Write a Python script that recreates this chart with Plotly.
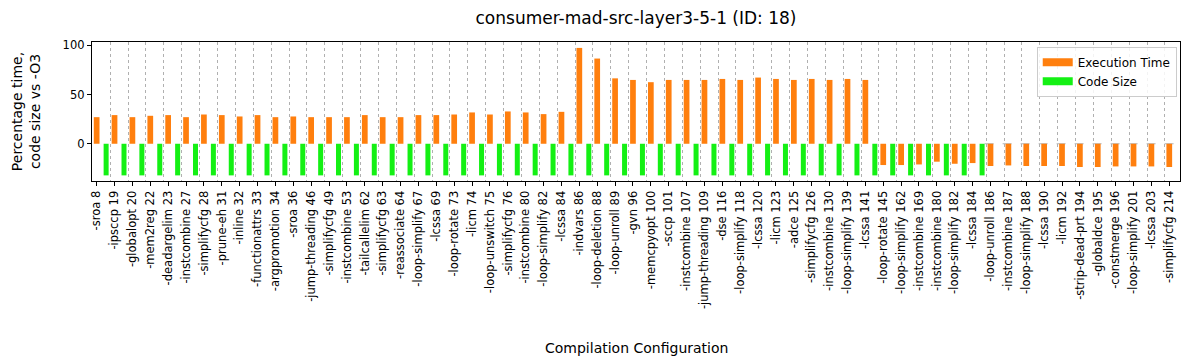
import plotly.graph_objects as go

# ── DATA ─────────────────────────────────────────────────────────────────
TITLE = 'consumer-mad-src-layer3-5-1 (ID: 18)'

labels = [
    '-sroa 8', '-ipsccp 19', '-globalopt 20', '-mem2reg 22', '-deadargelim 23',
    '-instcombine 27', '-simplifycfg 28', '-prune-eh 31', '-inline 32',
    '-functionattrs 33', '-argpromotion 34', '-sroa 36', '-jump-threading 46',
    '-simplifycfg 49', '-instcombine 53', '-tailcallelim 62', '-simplifycfg 63',
    '-reassociate 64', '-loop-simplify 67', '-lcssa 69', '-loop-rotate 73',
    '-licm 74', '-loop-unswitch 75', '-simplifycfg 76', '-instcombine 80',
    '-loop-simplify 82', '-lcssa 84', '-indvars 86', '-loop-deletion 88',
    '-loop-unroll 89', '-gvn 96', '-memcpyopt 100', '-sccp 101',
    '-instcombine 107', '-jump-threading 109', '-dse 116', '-loop-simplify 118',
    '-lcssa 120', '-licm 123', '-adce 125', '-simplifycfg 126',
    '-instcombine 130', '-loop-simplify 139', '-lcssa 141', '-loop-rotate 145',
    '-loop-simplify 162', '-instcombine 169', '-instcombine 180',
    '-loop-simplify 182', '-lcssa 184', '-loop-unroll 186', '-instcombine 187',
    '-loop-simplify 188', '-lcssa 190', '-licm 192', '-strip-dead-prt 194',
    '-globaldce 195', '-constmerge 196', '-loop-simplify 201', '-lcssa 203',
    '-simplifycfg 214',
]

exec_time = [
    27.0, 29.1, 27.0, 28.4, 29.1, 27.0, 29.7, 29.1, 27.7, 29.1,
    27.0, 27.7, 27.0, 27.0, 27.0, 29.1, 27.0, 27.0, 29.1, 29.1,
    29.7, 31.8, 29.7, 32.8, 31.8, 30.1, 32.4, 97.3, 86.5, 66.4,
    64.8, 62.5, 64.8, 64.8, 64.8, 65.8, 64.8, 67.2, 65.8, 64.8,
    65.8, 64.8, 65.8, 64.8, -21.6, -21.6, -21.0, -18.2, -20.3, -19.6,
    -22.6, -22.0, -22.6, -22.6, -22.6, -23.6, -23.6, -23.0, -23.0, -23.0,
    -23.6,
]

code_size = [-32.1] * 50 + [0.0] * 11

# ── STYLE ────────────────────────────────────────────────────────────────
ORANGE = '#ff7f0e'
GREEN = '#14f014'
FONT = 'DejaVu Sans'
X_RANGE = [-0.26, 60.6]
Y_RANGE = [-37.8, 103.3]
# the page body has an 8px margin, so the figure is drawn 8px smaller
W, H = 1188, 354

x = list(range(len(labels)))

fig = go.Figure()
fig.add_trace(go.Bar(x=x, y=exec_time, width=0.32, offset=-0.16,
                     marker=dict(color=ORANGE, line=dict(width=0)),
                     showlegend=False))
fig.add_trace(go.Bar(x=x, y=code_size, width=0.28, offset=0.39,
                     marker=dict(color=GREEN, line=dict(width=0)),
                     showlegend=False))

# legend patches
fig.add_trace(go.Scatter(x=[None], y=[None], mode='lines', name='Execution Time',
                         line=dict(color=ORANGE, width=8)))
fig.add_trace(go.Scatter(x=[None], y=[None], mode='lines', name='Code Size',
                         line=dict(color=GREEN, width=8)))

# dashed zero line where there are no code size bars
last_green = max(i for i, v in enumerate(code_size) if v != 0)
fig.add_shape(type='line', layer='below', xref='x', yref='y',
              x0=last_green + 0.67, x1=X_RANGE[1], y0=0, y1=0,
              line=dict(color='#b5b5b5', width=1, dash='dash'))

fig.update_xaxes(
    range=X_RANGE, tickmode='array', tickvals=x, ticktext=labels,
    tickangle=-90, tickfont=dict(family=FONT, size=11.5, color='black'),
    ticks='outside', ticklen=4, tickcolor='black',
    showgrid=False, zeroline=False, automargin=False,
    showline=True, mirror=True, linecolor='black', linewidth=1.3,
    minor=dict(tick0=-0.24, dtick=1, showgrid=True, griddash='dot',
               gridcolor='#b0b0b0', gridwidth=1, ticks=''),
)
fig.update_yaxes(
    range=Y_RANGE, tickvals=[0, 50, 100],
    tickfont=dict(family=FONT, size=11.5, color='black'),
    ticks='outside', ticklen=4, tickcolor='black',
    showgrid=False, zeroline=False, automargin=False,
    showline=True, mirror=True, linecolor='black', linewidth=1.3,
)

fig.add_annotation(text='Compilation Configuration', xref='paper', yref='paper',
                   x=0.5, y=-1.204, showarrow=False, yanchor='middle',
                   font=dict(family=FONT, size=14, color='black'))
fig.add_annotation(text='Percentage time,<br>code size vs -O3', xref='paper',
                   yref='paper', x=-0.061, y=0.5, textangle=-90, showarrow=False,
                   xanchor='center', yanchor='middle',
                   font=dict(family=FONT, size=14, color='black'))

fig.update_layout(
    width=W, height=H,
    margin=dict(l=84, r=16, t=34, b=181),
    paper_bgcolor='white', plot_bgcolor='white',
    barmode='overlay',
    title=dict(text=TITLE, x=0.5, xref='paper', y=1 - 10 / H,
               yanchor='middle', font=dict(family=FONT, size=17, color='black')),
    legend=dict(x=0.997, xanchor='right', y=0.965, yanchor='top',
                bgcolor='rgba(255,255,255,0.85)', bordercolor='#cccccc',
                borderwidth=1, itemwidth=30, tracegroupgap=0,
                font=dict(family=FONT, size=12, color='black')),
    font=dict(family=FONT),
)

fig.write_html('out.html')
